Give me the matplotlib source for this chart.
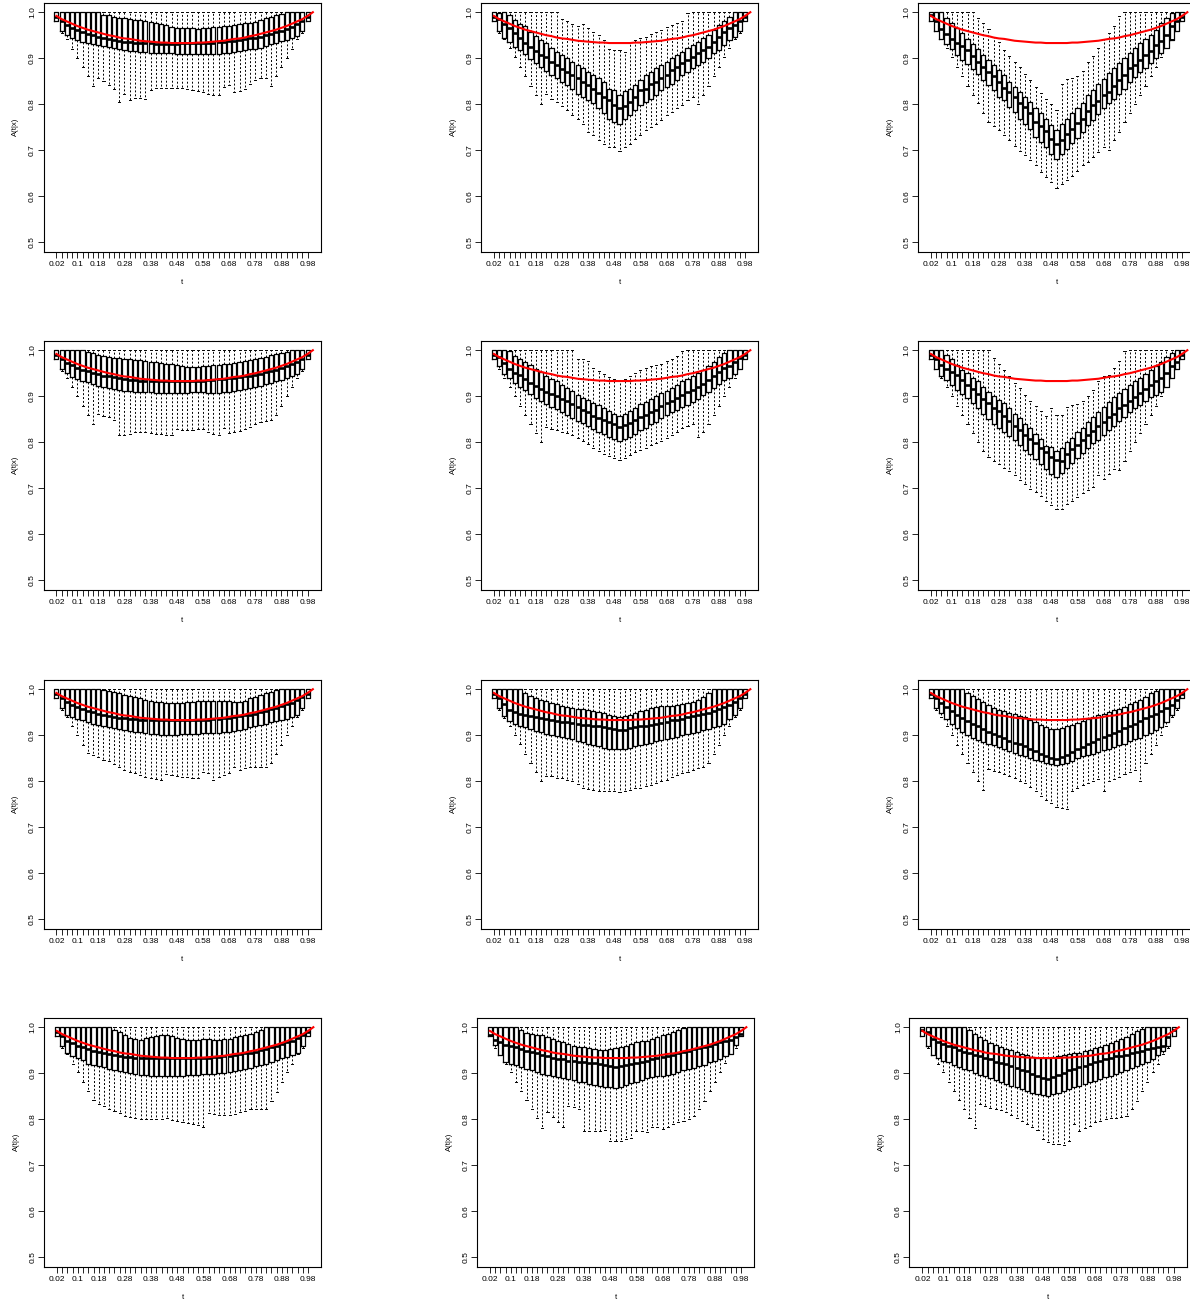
import matplotlib
matplotlib.use("Agg")
import matplotlib.pyplot as plt

plt.rcParams['font.family'] = ['Liberation Sans', 'DejaVu Sans']

# box positions 1..49 correspond to t = 0.02 .. 0.98
tick_pos = [1, 5, 9, 14, 19, 24, 29, 34, 39, 44, 49]
tick_lab = ['0.02', '0.1', '0.18', '0.28', '0.38', '0.48', '0.58', '0.68', '0.78', '0.88', '0.98']
y_ticks = [0.5, 0.6, 0.7, 0.8, 0.9, 1.0]
y_labs = ['0.5', '0.6', '0.7', '0.8', '0.9', '1.0']

# true A(t), t = 0.02 .. 1.00 (50 values)
red_curve = [0.992, 0.985, 0.980, 0.975, 0.970, 0.966, 0.962, 0.959, 0.956, 0.953,
             0.950, 0.948, 0.945, 0.943, 0.942, 0.940, 0.938, 0.937, 0.936, 0.935,
             0.934, 0.934, 0.933, 0.933, 0.933, 0.933, 0.933, 0.934, 0.934, 0.935,
             0.936, 0.937, 0.938, 0.940, 0.942, 0.943, 0.945, 0.948, 0.950, 0.953,
             0.956, 0.959, 0.962, 0.966, 0.970, 0.975, 0.980, 0.985, 0.992, 1.000]

hi_flat = [1.0] * 49

# ---------- panel 1 ----------
p1_lo = [0.98, 0.955, 0.941, 0.92, 0.90, 0.882, 0.861,
         0.84, 0.856, 0.85, 0.842, 0.834, 0.805, 0.822,
         0.809, 0.814, 0.814, 0.812, 0.831, 0.836, 0.836,
         0.836, 0.836, 0.836, 0.835, 0.833, 0.831, 0.829,
         0.826, 0.823, 0.821, 0.821, 0.838, 0.842, 0.826,
         0.828, 0.834, 0.845, 0.852, 0.858, 0.858, 0.84,
         0.861, 0.882, 0.90, 0.92, 0.941, 0.955, 0.98]
p1_q1 = [0.98, 0.96, 0.95, 0.943, 0.94, 0.935, 0.932,
         0.93, 0.928, 0.926, 0.924, 0.922, 0.92, 0.918,
         0.916, 0.915, 0.914, 0.913, 0.912, 0.912, 0.911,
         0.911, 0.911, 0.91, 0.91, 0.91, 0.91, 0.909,
         0.909, 0.909, 0.909, 0.91, 0.911, 0.912, 0.913,
         0.915, 0.917, 0.919, 0.921, 0.923, 0.926, 0.93,
         0.934, 0.937, 0.94, 0.943, 0.948, 0.96, 0.98]
p1_med = [0.99, 0.98, 0.972, 0.966, 0.961, 0.957, 0.953,
          0.95, 0.947, 0.944, 0.942, 0.94, 0.938, 0.936,
          0.935, 0.934, 0.933, 0.932, 0.932, 0.931, 0.931,
          0.931, 0.931, 0.931, 0.932, 0.932, 0.932, 0.933,
          0.933, 0.934, 0.934, 0.935, 0.936, 0.937, 0.938,
          0.939, 0.941, 0.943, 0.945, 0.947, 0.95, 0.953,
          0.956, 0.96, 0.964, 0.968, 0.974, 0.98, 0.99]
p1_q3 = [1.0, 1.0, 1.0, 1.0, 1.0, 1.0, 1.0,
         1.0, 1.0, 0.995, 0.993, 0.99, 0.988, 0.987,
         0.985, 0.983, 0.982, 0.98, 0.978, 0.977, 0.975,
         0.972, 0.968, 0.966, 0.966, 0.966, 0.965, 0.964,
         0.965, 0.966, 0.967, 0.968, 0.969, 0.97, 0.972,
         0.974, 0.976, 0.977, 0.979, 0.983, 0.987, 0.99,
         0.994, 0.997, 1.0, 1.0, 1.0, 1.0, 1.0]

# ---------- panel 2 ----------
p2_lo = [0.98, 0.955, 0.941, 0.922, 0.902, 0.882, 0.861,
         0.84, 0.82, 0.80, 0.822, 0.812, 0.805, 0.796,
         0.787, 0.776, 0.769, 0.758, 0.74, 0.733, 0.722,
         0.714, 0.707, 0.706, 0.698, 0.707, 0.714, 0.725,
         0.733, 0.743, 0.751, 0.758, 0.765, 0.776, 0.783,
         0.791, 0.798, 0.809, 0.816, 0.80, 0.82, 0.84,
         0.861, 0.882, 0.902, 0.922, 0.941, 0.955, 0.98]
p2_q1 = [0.98, 0.96, 0.945, 0.936, 0.925, 0.918, 0.909,
         0.898, 0.889, 0.882, 0.873, 0.863, 0.856, 0.849,
         0.842, 0.834, 0.823, 0.816, 0.809, 0.802, 0.791,
         0.78, 0.769, 0.762, 0.757, 0.769, 0.776, 0.787,
         0.798, 0.805, 0.812, 0.82, 0.831, 0.838, 0.845,
         0.852, 0.863, 0.871, 0.878, 0.885, 0.892, 0.90,
         0.911, 0.918, 0.929, 0.94, 0.947, 0.96, 0.98]
p2_med = [0.99, 0.985, 0.975, 0.965, 0.954, 0.945, 0.934,
          0.925, 0.916, 0.908, 0.902, 0.892, 0.885, 0.876,
          0.871, 0.863, 0.856, 0.849, 0.842, 0.834, 0.825,
          0.816, 0.809, 0.798, 0.791, 0.797, 0.805, 0.816,
          0.831, 0.834, 0.845, 0.849, 0.856, 0.863, 0.874,
          0.882, 0.889, 0.896, 0.903, 0.911, 0.918, 0.925,
          0.936, 0.947, 0.956, 0.965, 0.972, 0.98, 0.99]
p2_q3 = [1.0, 0.998, 1.0, 0.994, 0.983, 0.975, 0.969,
         0.958, 0.948, 0.94, 0.932, 0.922, 0.914, 0.907,
         0.90, 0.892, 0.885, 0.879, 0.871, 0.863, 0.856,
         0.849, 0.834, 0.831, 0.821, 0.828, 0.834, 0.842,
         0.853, 0.863, 0.871, 0.878, 0.885, 0.892, 0.90,
         0.907, 0.914, 0.922, 0.929, 0.936, 0.943, 0.951,
         0.962, 0.972, 0.98, 0.99, 1.0, 1.0, 1.0]
p2_hi = [1.0, 1.0, 1.0, 1.0, 1.0, 1.0, 1.0,
         1.0, 1.0, 1.0, 1.0, 1.0, 1.0, 0.985,
         0.98, 0.975, 0.97, 0.974, 0.965, 0.958, 0.95,
         0.94, 0.92, 0.918, 0.917, 0.913, 0.935, 0.94,
         0.943, 0.947, 0.953, 0.958, 0.962, 0.968, 0.972,
         0.976, 0.98, 0.998, 1.0, 1.0, 1.0, 1.0,
         1.0, 1.0, 1.0, 1.0, 1.0, 1.0, 1.0]

# ---------- panel 3 ----------
p3_lo = [0.98, 0.96, 0.941, 0.922, 0.902, 0.882, 0.861,
         0.84, 0.82, 0.802, 0.781, 0.762, 0.752, 0.743,
         0.733, 0.722, 0.709, 0.698, 0.689, 0.678, 0.667,
         0.653, 0.642, 0.631, 0.618, 0.626, 0.636, 0.645,
         0.656, 0.667, 0.674, 0.685, 0.696, 0.707, 0.70,
         0.722, 0.74, 0.762, 0.78, 0.80, 0.82, 0.84,
         0.861, 0.882, 0.902, 0.922, 0.941, 0.96, 0.98]
p3_q1 = [0.98, 0.96, 0.941, 0.931, 0.919, 0.908, 0.896,
         0.887, 0.876, 0.866, 0.852, 0.842, 0.831, 0.816,
         0.809, 0.794, 0.783, 0.769, 0.758, 0.747, 0.729,
         0.718, 0.707, 0.691, 0.68, 0.691, 0.703, 0.716,
         0.727, 0.74, 0.755, 0.765, 0.778, 0.791, 0.802,
         0.812, 0.823, 0.834, 0.849, 0.86, 0.871, 0.879,
         0.889, 0.90, 0.911, 0.922, 0.94, 0.96, 0.98]
p3_med = [0.993, 0.98, 0.963, 0.953, 0.941, 0.934, 0.927,
          0.918, 0.905, 0.892, 0.882, 0.871, 0.861, 0.849,
          0.836, 0.827, 0.815, 0.803, 0.793, 0.78, 0.762,
          0.752, 0.742, 0.725, 0.714, 0.723, 0.736, 0.747,
          0.759, 0.769, 0.785, 0.798, 0.807, 0.82, 0.827,
          0.839, 0.852, 0.863, 0.878, 0.885, 0.896, 0.907,
          0.916, 0.929, 0.938, 0.951, 0.969, 0.98, 0.99]
p3_q3 = [1.0, 1.0, 1.0, 0.987, 0.976, 0.965, 0.954,
         0.941, 0.931, 0.919, 0.907, 0.896, 0.885, 0.874,
         0.863, 0.849, 0.838, 0.827, 0.816, 0.805, 0.791,
         0.78, 0.769, 0.754, 0.745, 0.757, 0.769, 0.78,
         0.791, 0.802, 0.82, 0.832, 0.844, 0.854, 0.867,
         0.878, 0.889, 0.90, 0.911, 0.922, 0.932, 0.941,
         0.951, 0.962, 0.976, 0.987, 0.998, 1.0, 1.0]
p3_hi = [1.0, 1.0, 1.0, 1.0, 1.0, 1.0, 1.0,
         1.0, 1.0, 0.987, 0.977, 0.963, 0.947, 0.936,
         0.918, 0.905, 0.892, 0.88, 0.866, 0.852, 0.838,
         0.825, 0.812, 0.80, 0.787, 0.845, 0.854, 0.858,
         0.861, 0.873, 0.892, 0.905, 0.922, 0.941, 0.954,
         0.97, 0.991, 1.0, 1.0, 1.0, 1.0, 1.0,
         1.0, 1.0, 1.0, 1.0, 1.0, 1.0, 1.0]

# ---------- panel 4 ----------
p4_lo = [0.98, 0.955, 0.94, 0.92, 0.90, 0.879, 0.86,
         0.839, 0.862, 0.857, 0.854, 0.849, 0.816, 0.816,
         0.818, 0.822, 0.823, 0.822, 0.82, 0.818, 0.818,
         0.816, 0.816, 0.829, 0.827, 0.826, 0.827, 0.829,
         0.829, 0.823, 0.818, 0.816, 0.832, 0.821, 0.822,
         0.825, 0.829, 0.834, 0.839, 0.844, 0.847, 0.849,
         0.86, 0.879, 0.90, 0.92, 0.94, 0.955, 0.98]
p4_q1 = [0.98, 0.96, 0.95, 0.942, 0.937, 0.933, 0.93,
         0.926, 0.922, 0.92, 0.918, 0.916, 0.914, 0.912,
         0.911, 0.91, 0.91, 0.909, 0.909, 0.908, 0.908,
         0.907, 0.907, 0.907, 0.908, 0.908, 0.909, 0.909,
         0.909, 0.908, 0.908, 0.908, 0.909, 0.91, 0.911,
         0.913, 0.915, 0.918, 0.92, 0.923, 0.926, 0.929,
         0.932, 0.936, 0.94, 0.944, 0.948, 0.96, 0.98]
p4_med = [0.99, 0.981, 0.973, 0.967, 0.962, 0.958, 0.954,
          0.951, 0.948, 0.945, 0.943, 0.941, 0.939, 0.937,
          0.936, 0.935, 0.934, 0.933, 0.933, 0.932, 0.932,
          0.932, 0.932, 0.932, 0.932, 0.933, 0.933, 0.934,
          0.934, 0.935, 0.936, 0.937, 0.938, 0.939, 0.94,
          0.941, 0.943, 0.945, 0.947, 0.949, 0.952, 0.955,
          0.958, 0.961, 0.965, 0.969, 0.975, 0.981, 0.99]
p4_q3 = [1.0, 1.0, 1.0, 1.0, 1.0, 1.0, 0.996,
         0.993, 0.99, 0.987, 0.985, 0.984, 0.982, 0.981,
         0.98, 0.979, 0.978, 0.977, 0.975, 0.974, 0.972,
         0.97, 0.969, 0.967, 0.965, 0.964, 0.964, 0.964,
         0.965, 0.966, 0.967, 0.968, 0.969, 0.971, 0.972,
         0.974, 0.976, 0.978, 0.98, 0.983, 0.986, 0.989,
         0.992, 0.994, 0.997, 1.0, 1.0, 1.0, 1.0]

# ---------- panel 5 ----------
p5_lo = [0.98, 0.96, 0.94, 0.92, 0.90, 0.879, 0.86,
         0.839, 0.82, 0.80, 0.834, 0.829, 0.827, 0.823,
         0.82, 0.816, 0.81, 0.803, 0.796, 0.787, 0.78,
         0.775, 0.77, 0.766, 0.762, 0.766, 0.772, 0.778,
         0.783, 0.787, 0.793, 0.798, 0.803, 0.809, 0.815,
         0.823, 0.83, 0.836, 0.839, 0.812, 0.823, 0.839,
         0.86, 0.879, 0.90, 0.92, 0.94, 0.96, 0.98]
p5_q1 = [0.98, 0.965, 0.948, 0.94, 0.929, 0.921, 0.913,
         0.905, 0.896, 0.889, 0.883, 0.877, 0.872, 0.866,
         0.86, 0.852, 0.847, 0.842, 0.836, 0.829, 0.822,
         0.817, 0.812, 0.806, 0.803, 0.806, 0.812, 0.818,
         0.826, 0.832, 0.84, 0.845, 0.852, 0.86, 0.865,
         0.87, 0.876, 0.882, 0.888, 0.895, 0.902, 0.91,
         0.918, 0.927, 0.935, 0.939, 0.948, 0.96, 0.98]
p5_med = [0.99, 0.985, 0.972, 0.96, 0.95, 0.946, 0.937,
          0.928, 0.922, 0.916, 0.91, 0.905, 0.90, 0.895,
          0.889, 0.883, 0.876, 0.87, 0.865, 0.858, 0.853,
          0.848, 0.843, 0.839, 0.834, 0.837, 0.842, 0.849,
          0.855, 0.86, 0.865, 0.871, 0.878, 0.885, 0.89,
          0.896, 0.903, 0.909, 0.913, 0.92, 0.927, 0.936,
          0.945, 0.953, 0.962, 0.966, 0.975, 0.984, 0.99]
p5_q3 = [1.0, 1.0, 1.0, 0.998, 0.988, 0.98, 0.975,
         0.967, 0.959, 0.953, 0.945, 0.938, 0.932, 0.924,
         0.917, 0.911, 0.903, 0.897, 0.891, 0.885, 0.88,
         0.874, 0.868, 0.862, 0.857, 0.861, 0.868, 0.874,
         0.883, 0.888, 0.893, 0.90, 0.906, 0.911, 0.918,
         0.924, 0.932, 0.938, 0.944, 0.95, 0.958, 0.966,
         0.975, 0.985, 0.993, 1.0, 1.0, 1.0, 1.0]
p5_hi = [1.0, 1.0, 1.0, 1.0, 1.0, 1.0, 1.0,
         1.0, 1.0, 1.0, 1.0, 1.0, 1.0, 1.0,
         1.0, 1.0, 0.981, 0.98, 0.977, 0.961, 0.954,
         0.948, 0.941, 0.938, 0.932, 0.937, 0.943, 0.951,
         0.956, 0.961, 0.965, 0.967, 0.971, 0.976, 0.98,
         0.987, 0.998, 1.0, 1.0, 1.0, 1.0, 1.0,
         1.0, 1.0, 1.0, 1.0, 1.0, 1.0, 1.0]

# ---------- panel 6 ----------
p6_lo = [0.98, 0.96, 0.94, 0.92, 0.90, 0.879, 0.86,
         0.839, 0.82, 0.80, 0.78, 0.769, 0.759, 0.752,
         0.745, 0.738, 0.728, 0.717, 0.709, 0.698, 0.691,
         0.683, 0.673, 0.663, 0.654, 0.656, 0.665, 0.673,
         0.682, 0.689, 0.696, 0.703, 0.729, 0.72, 0.732,
         0.742, 0.739, 0.759, 0.78, 0.80, 0.82, 0.839,
         0.86, 0.879, 0.90, 0.92, 0.94, 0.96, 0.98]
p6_q1 = [0.98, 0.96, 0.943, 0.935, 0.925, 0.913, 0.905,
         0.896, 0.886, 0.875, 0.862, 0.851, 0.84, 0.832,
         0.822, 0.814, 0.805, 0.795, 0.784, 0.775, 0.764,
         0.752, 0.742, 0.732, 0.725, 0.734, 0.745, 0.755,
         0.765, 0.776, 0.788, 0.798, 0.805, 0.815, 0.826,
         0.835, 0.846, 0.855, 0.865, 0.874, 0.882, 0.89,
         0.898, 0.902, 0.91, 0.92, 0.94, 0.96, 0.98]
p6_med = [0.99, 0.98, 0.968, 0.96, 0.953, 0.946, 0.935,
          0.925, 0.915, 0.905, 0.895, 0.885, 0.875, 0.868,
          0.857, 0.847, 0.836, 0.827, 0.815, 0.807, 0.798,
          0.788, 0.778, 0.768, 0.762, 0.76, 0.775, 0.785,
          0.795, 0.805, 0.815, 0.825, 0.835, 0.845, 0.855,
          0.862, 0.874, 0.882, 0.89, 0.898, 0.906, 0.915,
          0.924, 0.932, 0.94, 0.95, 0.965, 0.975, 0.99]
p6_q3 = [1.0, 1.0, 1.0, 0.99, 0.98, 0.968, 0.958,
         0.95, 0.94, 0.932, 0.92, 0.91, 0.90, 0.892,
         0.885, 0.875, 0.862, 0.852, 0.84, 0.83, 0.818,
         0.806, 0.792, 0.79, 0.782, 0.788, 0.80, 0.81,
         0.822, 0.832, 0.845, 0.855, 0.866, 0.877, 0.888,
         0.898, 0.908, 0.915, 0.925, 0.932, 0.94, 0.948,
         0.958, 0.965, 0.975, 0.985, 0.995, 1.0, 1.0]
p6_hi = [1.0, 1.0, 1.0, 1.0, 1.0, 1.0, 1.0,
         1.0, 1.0, 1.0, 1.0, 1.0, 0.982, 0.969,
         0.958, 0.943, 0.929, 0.918, 0.903, 0.889, 0.878,
         0.867, 0.857, 0.875, 0.86, 0.86, 0.876, 0.88,
         0.883, 0.889, 0.90, 0.914, 0.932, 0.943, 0.947,
         0.961, 0.976, 0.998, 1.0, 1.0, 1.0, 1.0,
         1.0, 1.0, 1.0, 1.0, 1.0, 1.0, 1.0]

# ---------- panel 7 ----------
p7_lo = [0.98, 0.955, 0.94, 0.92, 0.90, 0.879, 0.861,
         0.856, 0.852, 0.847, 0.844, 0.837, 0.83, 0.825,
         0.82, 0.818, 0.814, 0.81, 0.807, 0.805, 0.803,
         0.815, 0.814, 0.812, 0.81, 0.809, 0.807, 0.807,
         0.82, 0.818, 0.802, 0.809, 0.814, 0.818, 0.832,
         0.825, 0.828, 0.832, 0.83, 0.83, 0.832, 0.839,
         0.859, 0.879, 0.90, 0.92, 0.94, 0.955, 0.98]
p7_q1 = [0.98, 0.96, 0.945, 0.94, 0.935, 0.932, 0.928,
         0.925, 0.922, 0.92, 0.918, 0.916, 0.913, 0.911,
         0.909, 0.908, 0.907, 0.905, 0.903, 0.902, 0.901,
         0.90, 0.90, 0.901, 0.902, 0.902, 0.903, 0.903,
         0.904, 0.904, 0.904, 0.905, 0.906, 0.908, 0.91,
         0.912, 0.914, 0.917, 0.92, 0.922, 0.925, 0.928,
         0.93, 0.932, 0.935, 0.94, 0.945, 0.96, 0.98]
p7_med = [0.99, 0.98, 0.972, 0.966, 0.961, 0.957, 0.953,
          0.95, 0.947, 0.944, 0.942, 0.94, 0.938, 0.937,
          0.936, 0.935, 0.934, 0.933, 0.933, 0.932, 0.932,
          0.932, 0.932, 0.932, 0.932, 0.932, 0.933, 0.933,
          0.934, 0.934, 0.935, 0.936, 0.937, 0.938, 0.939,
          0.941, 0.943, 0.945, 0.947, 0.95, 0.953, 0.956,
          0.959, 0.963, 0.967, 0.971, 0.976, 0.982, 0.99]
p7_q3 = [1.0, 1.0, 1.0, 1.0, 1.0, 1.0, 1.0,
         1.0, 1.0, 0.998, 0.996, 0.994, 0.992, 0.988,
         0.985, 0.982, 0.98, 0.977, 0.974, 0.973, 0.972,
         0.971, 0.97, 0.97, 0.971, 0.972, 0.973, 0.974,
         0.974, 0.975, 0.975, 0.975, 0.974, 0.974, 0.973,
         0.972, 0.975, 0.98, 0.984, 0.988, 0.992, 0.995,
         0.998, 1.0, 1.0, 1.0, 1.0, 1.0, 1.0]

# ---------- panel 8 ----------
p8_lo = [0.98, 0.955, 0.937, 0.921, 0.90, 0.88, 0.86,
         0.84, 0.82, 0.80, 0.812, 0.811, 0.807, 0.806,
         0.803, 0.80, 0.794, 0.786, 0.783, 0.781, 0.779,
         0.778, 0.778, 0.778, 0.776, 0.778, 0.781, 0.785,
         0.786, 0.789, 0.792, 0.796, 0.80, 0.803, 0.81,
         0.814, 0.818, 0.821, 0.825, 0.828, 0.832, 0.839,
         0.859, 0.879, 0.90, 0.921, 0.94, 0.955, 0.98]
p8_q1 = [0.98, 0.96, 0.941, 0.93, 0.925, 0.92, 0.917,
         0.913, 0.909, 0.906, 0.903, 0.90, 0.898, 0.896,
         0.894, 0.891, 0.888, 0.885, 0.882, 0.878, 0.876,
         0.873, 0.871, 0.87, 0.869, 0.871, 0.873, 0.876,
         0.878, 0.881, 0.884, 0.887, 0.889, 0.892, 0.895,
         0.897, 0.90, 0.902, 0.905, 0.908, 0.911, 0.914,
         0.917, 0.921, 0.925, 0.935, 0.945, 0.96, 0.98]
p8_med = [0.99, 0.98, 0.968, 0.955, 0.95, 0.946, 0.944,
          0.941, 0.939, 0.937, 0.935, 0.933, 0.931, 0.929,
          0.928, 0.926, 0.925, 0.923, 0.922, 0.92, 0.919,
          0.917, 0.915, 0.913, 0.911, 0.912, 0.915, 0.917,
          0.919, 0.921, 0.923, 0.925, 0.927, 0.929, 0.932,
          0.934, 0.936, 0.939, 0.941, 0.944, 0.946, 0.949,
          0.952, 0.956, 0.961, 0.966, 0.972, 0.98, 0.99]
p8_q3 = [1.0, 1.0, 1.0, 1.0, 1.0, 1.0, 0.992,
         0.986, 0.981, 0.977, 0.974, 0.97, 0.967, 0.964,
         0.962, 0.96, 0.958, 0.956, 0.954, 0.952, 0.95,
         0.948, 0.944, 0.941, 0.94, 0.941, 0.945, 0.949,
         0.952, 0.955, 0.959, 0.961, 0.963, 0.963, 0.964,
         0.966, 0.968, 0.97, 0.973, 0.977, 0.984, 0.992,
         1.0, 1.0, 1.0, 1.0, 1.0, 1.0, 1.0]

# ---------- panel 9 ----------
p9_lo = [0.98, 0.955, 0.94, 0.921, 0.90, 0.879, 0.859,
         0.84, 0.82, 0.80, 0.781, 0.827, 0.822, 0.82,
         0.815, 0.812, 0.807, 0.801, 0.796, 0.787, 0.778,
         0.769, 0.759, 0.752, 0.745, 0.741, 0.739, 0.778,
         0.785, 0.792, 0.796, 0.80, 0.805, 0.778, 0.801,
         0.805, 0.81, 0.815, 0.821, 0.825, 0.80, 0.84,
         0.86, 0.879, 0.90, 0.921, 0.94, 0.955, 0.98]
p9_q1 = [0.98, 0.96, 0.948, 0.936, 0.925, 0.915, 0.907,
         0.90, 0.894, 0.89, 0.886, 0.882, 0.878, 0.874,
         0.87, 0.866, 0.862, 0.858, 0.854, 0.85, 0.847,
         0.843, 0.84, 0.837, 0.836, 0.837, 0.84, 0.845,
         0.85, 0.854, 0.857, 0.86, 0.864, 0.867, 0.871,
         0.874, 0.878, 0.882, 0.887, 0.891, 0.895, 0.90,
         0.905, 0.911, 0.918, 0.928, 0.943, 0.96, 0.98]
p9_med = [0.99, 0.98, 0.97, 0.961, 0.952, 0.944, 0.937,
          0.931, 0.925, 0.919, 0.913, 0.907, 0.903, 0.898,
          0.893, 0.888, 0.884, 0.88, 0.876, 0.87, 0.865,
          0.86, 0.855, 0.85, 0.849, 0.852, 0.858, 0.864,
          0.869, 0.875, 0.88, 0.886, 0.891, 0.896, 0.90,
          0.905, 0.91, 0.915, 0.919, 0.925, 0.931, 0.937,
          0.941, 0.947, 0.952, 0.959, 0.966, 0.977, 0.99]
p9_q3 = [1.0, 1.0, 1.0, 1.0, 1.0, 1.0, 1.0,
         0.992, 0.985, 0.978, 0.972, 0.966, 0.96, 0.955,
         0.952, 0.949, 0.946, 0.942, 0.939, 0.934, 0.929,
         0.923, 0.917, 0.914, 0.914, 0.916, 0.919, 0.923,
         0.927, 0.93, 0.935, 0.939, 0.943, 0.946, 0.95,
         0.954, 0.958, 0.962, 0.967, 0.972, 0.977, 0.984,
         0.991, 0.997, 1.0, 1.0, 1.0, 1.0, 1.0]

# ---------- panel 10 ----------
p10_lo = [0.98, 0.955, 0.942, 0.921, 0.902, 0.882, 0.862,
          0.842, 0.833, 0.828, 0.823, 0.818, 0.813, 0.807,
          0.804, 0.802, 0.801, 0.80, 0.80, 0.80, 0.801,
          0.802, 0.799, 0.797, 0.795, 0.792, 0.789, 0.787,
          0.784, 0.813, 0.811, 0.809, 0.809, 0.81, 0.811,
          0.815, 0.818, 0.822, 0.823, 0.822, 0.822, 0.84,
          0.86, 0.882, 0.902, 0.921, 0.942, 0.955, 0.98]
p10_q1 = [0.98, 0.96, 0.945, 0.937, 0.932, 0.928, 0.921,
          0.918, 0.915, 0.913, 0.91, 0.907, 0.905, 0.902,
          0.90, 0.899, 0.897, 0.896, 0.895, 0.894, 0.894,
          0.894, 0.894, 0.894, 0.895, 0.896, 0.896, 0.897,
          0.898, 0.898, 0.899, 0.90, 0.90, 0.902, 0.904,
          0.907, 0.91, 0.912, 0.915, 0.918, 0.92, 0.924,
          0.928, 0.932, 0.935, 0.94, 0.945, 0.96, 0.98]
p10_med = [0.99, 0.98, 0.971, 0.965, 0.96, 0.956, 0.952,
           0.949, 0.946, 0.943, 0.941, 0.939, 0.937, 0.936,
           0.935, 0.934, 0.933, 0.933, 0.932, 0.932, 0.932,
           0.932, 0.932, 0.932, 0.932, 0.932, 0.933, 0.933,
           0.934, 0.934, 0.935, 0.936, 0.937, 0.938, 0.939,
           0.941, 0.943, 0.945, 0.947, 0.95, 0.953, 0.956,
           0.959, 0.963, 0.967, 0.971, 0.976, 0.982, 0.99]
p10_q3 = [1.0, 1.0, 1.0, 1.0, 1.0, 1.0, 1.0,
          1.0, 1.0, 1.0, 1.0, 0.995, 0.989, 0.982,
          0.977, 0.974, 0.973, 0.976, 0.978, 0.98, 0.982,
          0.982, 0.98, 0.977, 0.975, 0.973, 0.973, 0.973,
          0.974, 0.975, 0.973, 0.973, 0.974, 0.975, 0.978,
          0.98, 0.983, 0.986, 0.99, 0.995, 1.0, 1.0,
          1.0, 1.0, 1.0, 1.0, 1.0, 1.0, 1.0]

# ---------- panel 11 ----------
p11_lo = [0.98, 0.955, 0.94, 0.92, 0.902, 0.882, 0.862,
          0.842, 0.822, 0.802, 0.782, 0.815, 0.804, 0.793,
          0.784, 0.828, 0.826, 0.822, 0.775, 0.775, 0.775,
          0.775, 0.776, 0.753, 0.753, 0.753, 0.757, 0.76,
          0.775, 0.774, 0.773, 0.784, 0.783, 0.778, 0.784,
          0.789, 0.793, 0.797, 0.80, 0.807, 0.822, 0.84,
          0.862, 0.882, 0.902, 0.922, 0.942, 0.955, 0.98]
p11_q1 = [0.98, 0.961, 0.94, 0.924, 0.92, 0.918, 0.913,
          0.909, 0.906, 0.902, 0.898, 0.896, 0.893, 0.891,
          0.889, 0.887, 0.885, 0.882, 0.88, 0.876, 0.874,
          0.873, 0.871, 0.869, 0.868, 0.871, 0.874, 0.879,
          0.882, 0.886, 0.889, 0.891, 0.893, 0.895, 0.896,
          0.898, 0.902, 0.906, 0.909, 0.911, 0.915, 0.918,
          0.924, 0.927, 0.931, 0.938, 0.942, 0.961, 0.98]
p11_med = [0.982, 0.973, 0.967, 0.961, 0.959, 0.956, 0.953,
           0.949, 0.947, 0.943, 0.94, 0.937, 0.932, 0.931,
           0.93, 0.927, 0.926, 0.925, 0.924, 0.922, 0.922,
           0.92, 0.918, 0.915, 0.913, 0.915, 0.918, 0.92,
           0.922, 0.925, 0.927, 0.931, 0.933, 0.936, 0.938,
           0.94, 0.944, 0.947, 0.949, 0.953, 0.954, 0.956,
           0.96, 0.964, 0.967, 0.971, 0.973, 0.978, 0.985]
p11_q3 = [1.0, 1.0, 1.0, 1.0, 1.0, 1.0, 0.993,
          0.988, 0.985, 0.983, 0.982, 0.978, 0.975, 0.971,
          0.967, 0.964, 0.96, 0.958, 0.956, 0.954, 0.953,
          0.951, 0.95, 0.953, 0.954, 0.956, 0.96, 0.964,
          0.967, 0.969, 0.971, 0.975, 0.978, 0.982, 0.985,
          0.989, 0.993, 0.998, 1.0, 1.0, 1.0, 1.0,
          1.0, 1.0, 1.0, 1.0, 1.0, 1.0, 1.0]

# ---------- panel 12 ----------
p12_lo = [0.98, 0.955, 0.94, 0.921, 0.902, 0.882, 0.862,
          0.842, 0.822, 0.802, 0.782, 0.834, 0.828, 0.825,
          0.823, 0.82, 0.815, 0.809, 0.802, 0.797, 0.789,
          0.783, 0.776, 0.757, 0.751, 0.747, 0.747, 0.745,
          0.753, 0.789, 0.775, 0.78, 0.786, 0.793, 0.797,
          0.80, 0.802, 0.803, 0.805, 0.807, 0.822, 0.84,
          0.862, 0.882, 0.902, 0.921, 0.942, 0.955, 0.98]
p12_q1 = [0.98, 0.96, 0.94, 0.932, 0.927, 0.924, 0.918,
          0.913, 0.909, 0.906, 0.90, 0.896, 0.893, 0.89,
          0.886, 0.882, 0.876, 0.873, 0.869, 0.866, 0.862,
          0.858, 0.855, 0.853, 0.851, 0.855, 0.858, 0.862,
          0.866, 0.869, 0.873, 0.876, 0.88, 0.884, 0.887,
          0.891, 0.895, 0.898, 0.903, 0.908, 0.911, 0.915,
          0.92, 0.925, 0.931, 0.94, 0.949, 0.96, 0.98]
p12_med = [0.995, 0.989, 0.975, 0.967, 0.964, 0.96, 0.956,
           0.951, 0.947, 0.944, 0.94, 0.937, 0.932, 0.93,
           0.925, 0.922, 0.92, 0.915, 0.911, 0.908, 0.904,
           0.898, 0.895, 0.889, 0.887, 0.891, 0.896, 0.90,
           0.906, 0.909, 0.913, 0.916, 0.92, 0.924, 0.927,
           0.931, 0.932, 0.937, 0.938, 0.94, 0.943, 0.947,
           0.949, 0.953, 0.954, 0.958, 0.96, 0.978, 0.993]
p12_q3 = [1.0, 1.0, 1.0, 1.0, 1.0, 1.0, 1.0,
          1.0, 1.0, 0.993, 0.985, 0.978, 0.972, 0.966,
          0.961, 0.956, 0.953, 0.95, 0.946, 0.942, 0.939,
          0.936, 0.933, 0.932, 0.933, 0.935, 0.937, 0.939,
          0.941, 0.943, 0.945, 0.948, 0.951, 0.954, 0.957,
          0.961, 0.965, 0.969, 0.974, 0.979, 0.985, 0.991,
          0.997, 1.0, 1.0, 1.0, 1.0, 1.0, 1.0]

panels = [
    (p1_lo, p1_q1, p1_med, p1_q3, hi_flat),
    (p2_lo, p2_q1, p2_med, p2_q3, p2_hi),
    (p3_lo, p3_q1, p3_med, p3_q3, p3_hi),
    (p4_lo, p4_q1, p4_med, p4_q3, hi_flat),
    (p5_lo, p5_q1, p5_med, p5_q3, p5_hi),
    (p6_lo, p6_q1, p6_med, p6_q3, p6_hi),
    (p7_lo, p7_q1, p7_med, p7_q3, hi_flat),
    (p8_lo, p8_q1, p8_med, p8_q3, hi_flat),
    (p9_lo, p9_q1, p9_med, p9_q3, hi_flat),
    (p10_lo, p10_q1, p10_med, p10_q3, hi_flat),
    (p11_lo, p11_q1, p11_med, p11_q3, hi_flat),
    (p12_lo, p12_q1, p12_med, p12_q3, hi_flat),
]

# frame rectangles in pixels (left, top)
W, H = 1190, 1309
row_tops = [3, 341, 680, 1018]
col_lefts = [[43.5, 481, 918], [43.5, 481, 918], [43.5, 481, 918], [44, 477, 909.5]]
pw, ph = 277, 248.5

fig = plt.figure(figsize=(W / 100, H / 100), dpi=100)

n = 49
positions = list(range(1, n + 1))
lab_full = [''] * n
for p, l in zip(tick_pos, tick_lab):
    lab_full[p - 1] = l

for k, (lo, q1, med, q3, hi) in enumerate(panels):
    r, c = divmod(k, 3)
    left = col_lefts[r][c]
    top = row_tops[r]
    ax = fig.add_axes([left / W, 1 - (top + ph) / H, pw / W, ph / H])

    stats = []
    for a, b, m, d, e in zip(lo, q1, med, q3, hi, strict=True):
        stats.append(dict(whislo=a, q1=b, med=m, q3=d, whishi=e, fliers=[]))

    ax.bxp(stats, positions=positions, widths=0.8, capwidths=0.4,
           showfliers=False, manage_ticks=False,
           boxprops=dict(color='black', lw=0.9),
           medianprops=dict(color='black', lw=1.9, solid_capstyle='butt'),
           whiskerprops=dict(color='black', lw=0.7, linestyle=(0, (2, 2))),
           capprops=dict(color='black', lw=0.7))

    ax.plot(range(1, 51), red_curve, color='red', lw=1.5, zorder=5)

    ax.set_xlim(-1.46, 51.46)
    ax.set_ylim(0.48, 1.02)
    ax.set_xticks(positions)
    ax.set_xticklabels(lab_full, fontsize=6)
    ax.set_yticks(y_ticks)
    ax.set_yticklabels(y_labs, fontsize=6, rotation=90, va='center')
    ax.tick_params(axis='x', length=4, width=0.6, pad=3)
    ax.tick_params(axis='y', length=4, width=0.6, pad=1.5)
    for s in ax.spines.values():
        s.set_linewidth(0.8)
    ax.set_xlabel('t', fontsize=5.5, labelpad=8)
    ax.set_ylabel('A(t|x)', fontsize=5.5, labelpad=7)

fig.savefig('out.png', dpi=100)
